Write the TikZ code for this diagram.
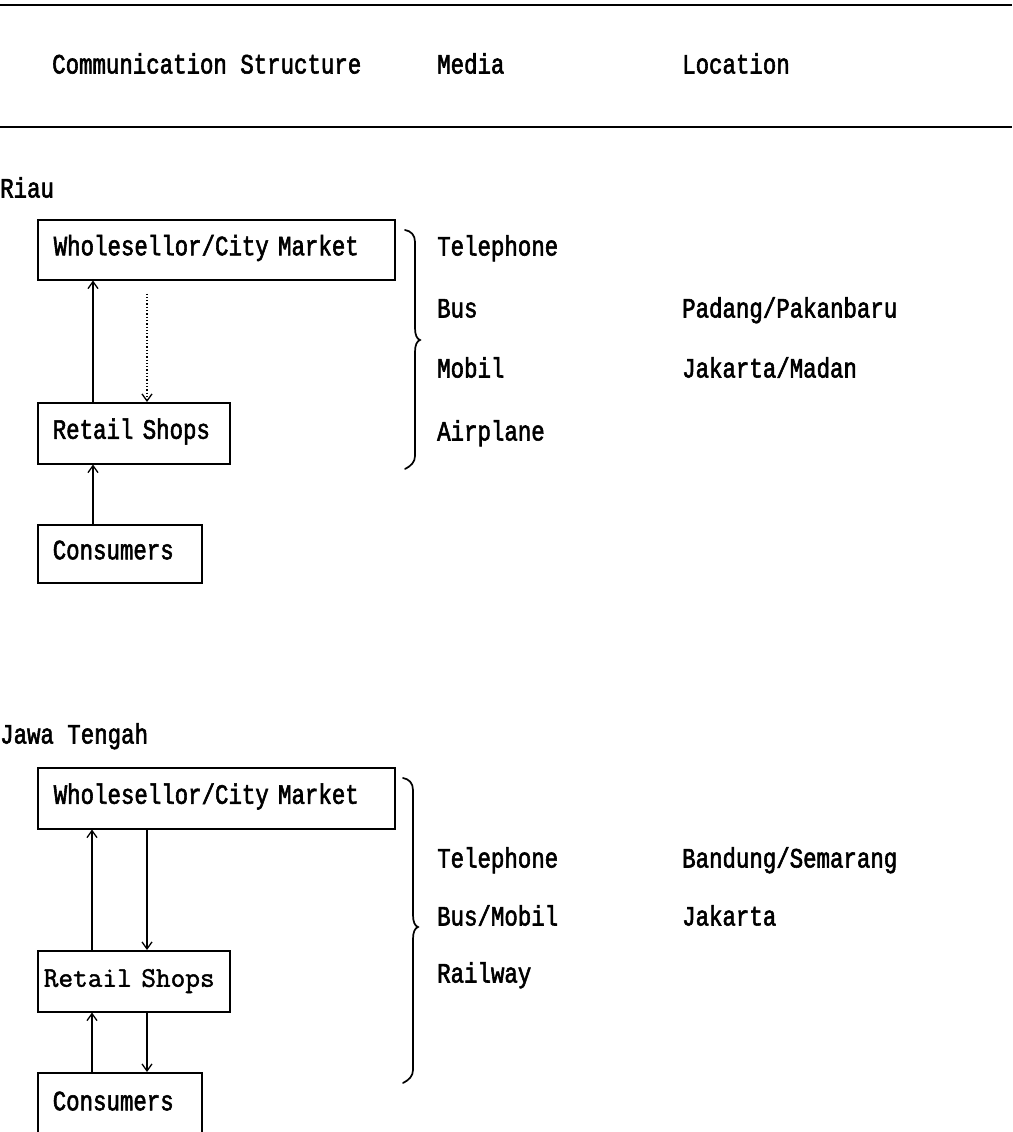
\documentclass[tikz,border=0pt]{standalone}
\usepackage{fontspec}
\newfontfamily\dotfont[FakeStretch=0.8,FakeBold=2]{Liberation Mono}
\newfontfamily\crfont[FakeBold=1.5]{Latin Modern Mono}
\newcommand{\dotsize}{\dotfont\fontsize{28}{30}\selectfont\fontdimen2\font=13.4pt\fontdimen3\font=0pt\fontdimen4\font=0pt}
\newcommand{\crsize}{\crfont\fontsize{28.5}{30}\selectfont}
\usetikzlibrary{arrows.meta,calc}
\begin{document}
\begin{tikzpicture}[x=1pt,y=-1pt,
  txt/.style={font=\dotsize, inner sep=0pt, anchor=west, text height=16pt, text depth=5pt},
  boxed/.style={draw, line width=1.5pt, anchor=north west, inner ysep=0pt, align=left,
     font=\dotsize, text height=16pt, text depth=5pt},
  arr/.style={line width=1.3pt, -{Straight Barb[length=7pt,width=10pt,line width=1.3pt]}},
  rule/.style={line width=1.8pt},
  bracepath/.style={line width=1.7pt, line cap=round}
]
\useasboundingbox (0,0) rectangle (1012,1132);
\clip (0,0) rectangle (1012,1132);

% header rules
\coordinate (r1a) at (0,5);   \coordinate (r1b) at (1012,5);
\coordinate (r2a) at (0,127); \coordinate (r2b) at (1012,127);
\draw[rule] (r1a) -- (r1b);
\draw[rule] (r2a) -- (r2b);

% header
\node[txt] (hcs) at (52,68) {Communication Structure};
\node[txt] (hmed) at (437,68) {Media};
\node[txt] (hloc) at (682,68) {Location};

% ---------- Riau ----------
\node[txt] (riau) at (0,192) {Riau};
\node[boxed, inner xsep=16pt, text width=325pt, minimum height=60pt] (rw) at (37,219) {Wholesellor/City Market};
\node[boxed, inner xsep=15pt, text width=162pt, minimum height=61pt] (rr) at (37,402) {Retail Shops};
\node[boxed, inner xsep=15pt, text width=134pt, minimum height=58pt] (rc) at (37,524) {Consumers};

\draw[arr] ($(rr.north west)+(56,0)$) -- ($(rw.south west)+(56,0)$);
\draw[arr] ($(rc.north west)+(56,0)$) -- ($(rr.south west)+(56,0)$);
\draw[arr, dotted] ($(rw.south west)+(110,13)$) -- ($(rr.north west)+(110,0)$);

% brace Riau
\draw[bracepath] (405,230) .. controls (411,231) and (415,235) .. (415,242)
  -- (415,328) .. controls (415,335) and (417,339) .. (420,340)
  .. controls (417,341) and (415,345) .. (415,352)
  -- (415,456) .. controls (415,462) and (411,466) .. (405,469);

\node[txt] (m1) at (437,250) {Telephone};
\node[txt] (m2) at (437,312) {Bus};
\node[txt] (m3) at (437,372) {Mobil};
\node[txt] (m4) at (437,435) {Airplane};
\node[txt] (l1) at (682,312) {Padang/Pakanbaru};
\node[txt] (l2) at (682,372) {Jakarta/Madan};

% ---------- Jawa Tengah ----------
\node[txt] (jawa) at (0,738) {Jawa Tengah};
\node[boxed, inner xsep=6pt, text width=180pt, minimum height=61pt, font=\crsize] (jr) at (37,950) {Retail Shops};
\node[boxed, inner xsep=16pt, text width=325pt, minimum height=61pt] (jw) at (37,767) {Wholesellor/City Market};
\node[boxed, inner xsep=15pt, text width=134pt, minimum height=64pt] (jc) at (37,1072) {Consumers};

\draw[arr] ($(jr.north west)+(55,0)$) -- ($(jw.south west)+(55,0)$);
\draw[arr] ($(jw.south west)+(110,0)$) -- ($(jr.north west)+(110,0)$);
\draw[arr] ($(jc.north west)+(55,0)$) -- ($(jr.south west)+(55,0)$);
\draw[arr] ($(jr.south west)+(110,0)$) -- ($(jc.north west)+(110,0)$);

% brace Jawa
\draw[bracepath] (403,778) .. controls (409,779) and (413,783) .. (413,790)
  -- (413,915) .. controls (413,922) and (415,926) .. (418,927)
  .. controls (415,928) and (413,932) .. (413,939)
  -- (413,1070) .. controls (413,1076) and (409,1080) .. (403,1083);

\node[txt] (n1) at (437,862) {Telephone};
\node[txt] (n2) at (437,920) {Bus/Mobil};
\node[txt] (n3) at (437,977) {Railway};
\node[txt] (k1) at (682,862) {Bandung/Semarang};
\node[txt] (k2) at (682,920) {Jakarta};
\end{tikzpicture}
\end{document}
